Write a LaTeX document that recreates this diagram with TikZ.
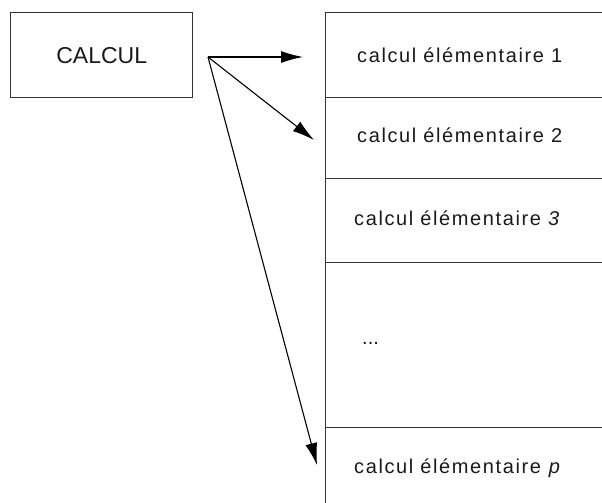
\documentclass[tikz,border=0pt]{standalone}
\usepackage{fontspec}
\setmainfont{Liberation Sans}
\newfontfamily\cellfont[LetterSpace=8]{Liberation Sans}
\usetikzlibrary{arrows.meta}
\definecolor{ln}{HTML}{333333}
\definecolor{tx}{HTML}{1A1A1A}
\begin{document}
\begin{tikzpicture}[x=1pt,y=-1pt,
  box/.style={draw=ln,line width=1.4pt,rectangle,inner sep=0pt,anchor=north west},
  lbl/.style={anchor=west,inner sep=0pt,text=tx,font=\cellfont\fontsize{20}{23}\selectfont},
  arr/.style={draw=black,line width=1.1pt,-{Latex[length=22pt,width=12pt]}}]
\useasboundingbox (0,0) rectangle (602,503);
\clip (0,0) rectangle (602,503);
\node[box,minimum width=182pt,minimum height=85pt,font=\fontsize{23}{26}\selectfont,text=tx] (calc) at (10,12) {CALCUL};
\node[box,minimum width=300pt,minimum height=85pt] (c1) at (325,12) {};
\node[box,minimum width=300pt,minimum height=81pt] (c2) at (325,97) {};
\node[box,minimum width=300pt,minimum height=84pt] (c3) at (325,178) {};
\node[box,minimum width=300pt,minimum height=165pt] (c4) at (325,262) {};
\node[box,minimum width=300pt,minimum height=100pt] (c5) at (325,427) {};
\node[lbl] (t1) at (357,55) {calcul élémentaire 1};
\node[lbl] (t2) at (357,135) {calcul élémentaire 2};
\node[lbl] (t3) at (354,218) {calcul élémentaire \textit{3}};
\node[lbl,font=\fontsize{20}{23}\selectfont] (t4) at (362,343) {...};
\node[lbl] (t5) at (354,468) {calcul élémentaire\hspace{8pt}\textit{p}};
\coordinate (src) at (208,57);
\coordinate (e1) at (303,57);
\coordinate (e2) at (314,140);
\coordinate (e3) at (317,465);
\draw[arr] (src) -- (e1);
\draw[arr] (src) -- (e2);
\draw[arr] (src) -- (e3);
\end{tikzpicture}
\end{document}
